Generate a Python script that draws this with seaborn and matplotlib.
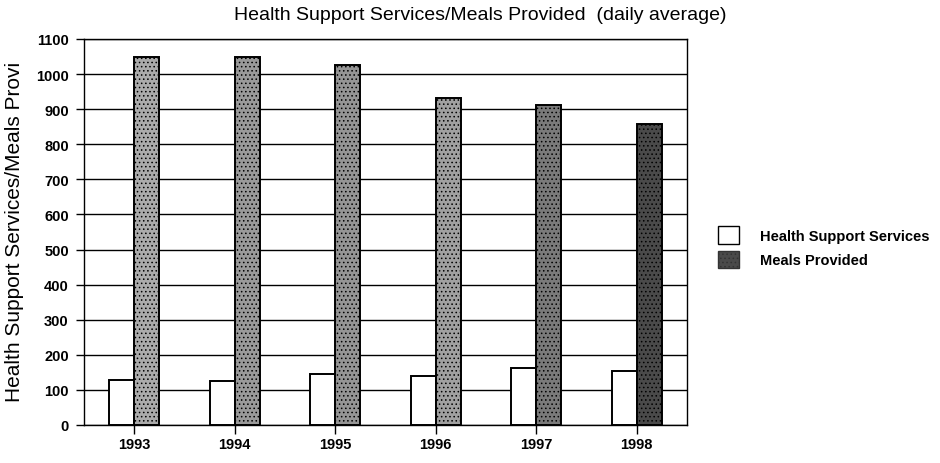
import matplotlib
matplotlib.use("Agg")
import matplotlib.pyplot as plt
import seaborn as sns
import pandas as pd
from matplotlib.patches import Patch

years = ["1993", "1994", "1995", "1996", "1997", "1998"]
health_support = [128, 125, 146, 140, 162, 154]
meals_provided = [1050, 1050, 1025, 931, 912, 857]
series_names = ["Health Support Services", "Meals Provided"]
title_text = "Health Support Services/Meals Provided  (daily average)"
ylabel_text = "Health Support Services/Meals Provi"
y_ticks = list(range(0, 1101, 100))

# style: gray shades for the stippled meal bars (darkening over the years)
meal_shades = ["#ababab", "#9a9a9a", "#959595", "#a0a0a0", "#7a7a7a", "#4a4a4a"]

df = pd.DataFrame({
    "year": years * 2,
    "series": [series_names[0]] * len(years) + [series_names[1]] * len(years),
    "value": health_support + meals_provided,
})

sns.set_theme(style="white")
plt.rcParams["font.family"] = ["Liberation Sans", "DejaVu Sans"]
plt.rcParams["hatch.color"] = "#2a2a2a"
plt.rcParams["hatch.linewidth"] = 0.6
for k in ["text.color", "axes.labelcolor", "xtick.color", "ytick.color"]:
    plt.rcParams[k] = "black"

fig = plt.figure(figsize=(9.4, 4.64), dpi=100)
ax = fig.add_axes([0.0894, 0.0819, 0.7309 - 0.0894, 0.9138 - 0.0819])

sns.barplot(data=df, x="year", y="value", hue="series", order=years,
            hue_order=series_names,
            palette={series_names[0]: "white", series_names[1]: "#999999"},
            width=0.5, gap=0, edgecolor="black", linewidth=1.4,
            errorbar=None, ax=ax, legend=False, zorder=3)

for bar, shade in zip(ax.containers[1], meal_shades):
    bar.set_facecolor(shade)
    bar.set_hatch("....")
    bar.set_edgecolor("black")
for bar in ax.containers[0]:
    bar.set_facecolor("white")

ax.set_ylim(0, 1100)
ax.set_yticks(y_ticks)
ax.set_yticklabels([str(t) for t in y_ticks], fontsize=10.5, fontweight="bold")
ax.set_xticks(range(len(years)))
ax.set_xticklabels(years, fontsize=10.5, fontweight="bold")
ax.set_xlim(-0.5, len(years) - 0.5)
ax.yaxis.grid(True, color="black", linewidth=1.0)
ax.set_axisbelow(True)
ax.tick_params(axis="y", direction="out", length=6, width=1, color="black", pad=5, left=True)
ax.tick_params(axis="x", direction="out", length=6.5, width=1, color="black", pad=2, bottom=True)
for s in ax.spines.values():
    s.set_visible(True)
    s.set_color("black")
    s.set_linewidth(1.0)

ax.set_xlabel("")
ax.set_ylabel("")
fig.text(0.015, 0.5, ylabel_text, rotation=90, ha="center", va="center", fontsize=15)
fig.text(0.511, 0.966, title_text, ha="center", va="center", fontsize=14)

handles = [Patch(facecolor="white", edgecolor="black", linewidth=1.0),
           Patch(facecolor="#4a4a4a", edgecolor="#333333", hatch="....", linewidth=1.0)]
fig.legend(handles, series_names, loc="center left", bbox_to_anchor=(0.75, 0.465),
           frameon=False, prop={"size": 10.5, "weight": "bold"},
           handlelength=1.43, handleheight=1.43, handletextpad=1.45, labelspacing=0.5)

fig.savefig("out.png", dpi=100)
